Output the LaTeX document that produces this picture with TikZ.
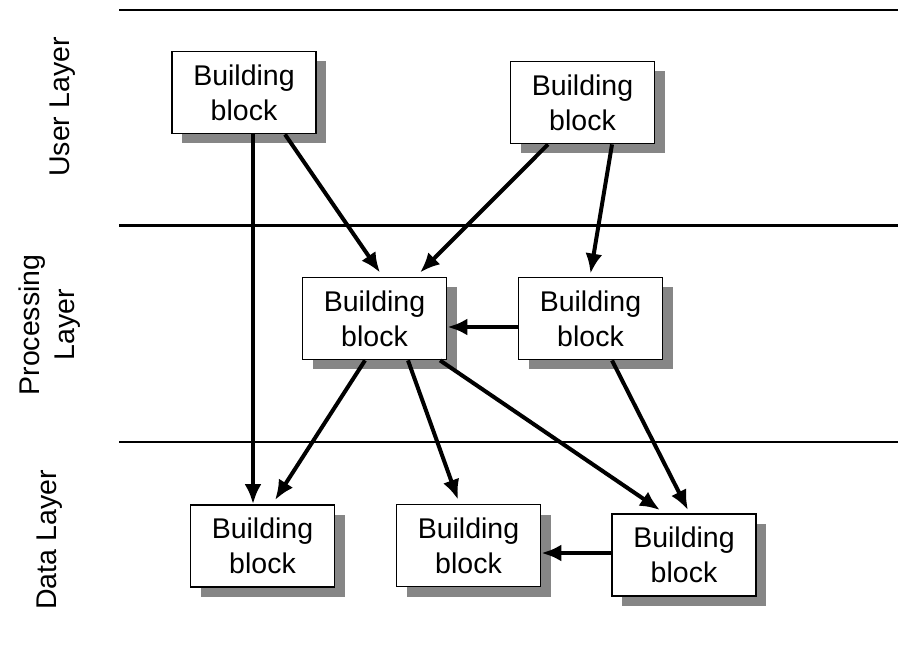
\documentclass[tikz,border=0pt]{standalone}
\usepackage{fontspec}
\setmainfont{Liberation Sans}
\usetikzlibrary{arrows.meta,shadows}
\begin{document}
\begin{tikzpicture}[x=1pt,y=-1pt,
 bb/.style={draw=black, line width=1.8pt, fill=white, minimum width=144pt, minimum height=82pt, align=center, font=\fontsize{28.5}{35}\selectfont, inner sep=0pt, drop shadow={shadow xshift=10pt, shadow yshift=-10pt, fill=gray!95, opacity=1}},
 ar/.style={line width=4pt, -{Latex[length=20pt,width=17pt]}},
 lay/.style={rotate=90, align=center, font=\fontsize{28.5}{35}\selectfont}]
\useasboundingbox (0,0) rectangle (898,655);
\draw[line width=1.5pt] (119,10) -- (898,10);
\draw[line width=3pt] (119,226) -- (898,226);
\draw[line width=1.5pt] (119,442) -- (898,442);
\node[lay] (lu) at (63,107) {User Layer};
\node[lay] (lp) at (50,325) {Processing\\Layer};
\node[lay] (ld) at (50,540) {Data Layer};
\node[bb] (U1) at (244,92.5) {Building\\block};
\node[bb] (U2) at (582.5,102.5) {Building\\block};
\node[bb] (P1) at (374.5,318.5) {Building\\block};
\node[bb] (P2) at (590.5,318.5) {Building\\block};
\node[bb] (D1) at (262.5,546) {Building\\block};
\node[bb] (D2) at (468.5,545.5) {Building\\block};
\node[bb] (D3) at (684,555) {Building\\block};
\draw[ar] ([xshift=9pt]U1.south) -- ([xshift=-9.5pt]D1.north);
\draw[ar] ([xshift=41pt]U1.south) -- ([xshift=5.5pt,yshift=4pt]P1.north);
\draw[ar] ([xshift=-34.5pt]U2.south) -- ([xshift=45.5pt,yshift=4pt]P1.north);
\draw[ar] ([xshift=29.5pt]U2.south) -- ([xshift=0pt,yshift=3pt]P2.north);
\draw[ar] ([yshift=-8.5pt]P2.west) -- ([yshift=-8.5pt]P1.east);
\draw[ar] ([xshift=-9.5pt]P1.south) -- ([xshift=12.5pt,yshift=4pt]D1.north);
\draw[ar] ([xshift=33.5pt]P1.south) -- ([xshift=-10.5pt,yshift=4pt]D2.north);
\draw[ar] ([xshift=65.5pt]P1.south) -- ([xshift=-24pt,yshift=3pt]D3.north);
\draw[ar] ([xshift=21.5pt]P2.south) -- ([xshift=4pt,yshift=3pt]D3.north);
\draw[ar] ([yshift=2pt]D3.west) -- ([yshift=-7.5pt]D2.east);
\end{tikzpicture}
\end{document}
